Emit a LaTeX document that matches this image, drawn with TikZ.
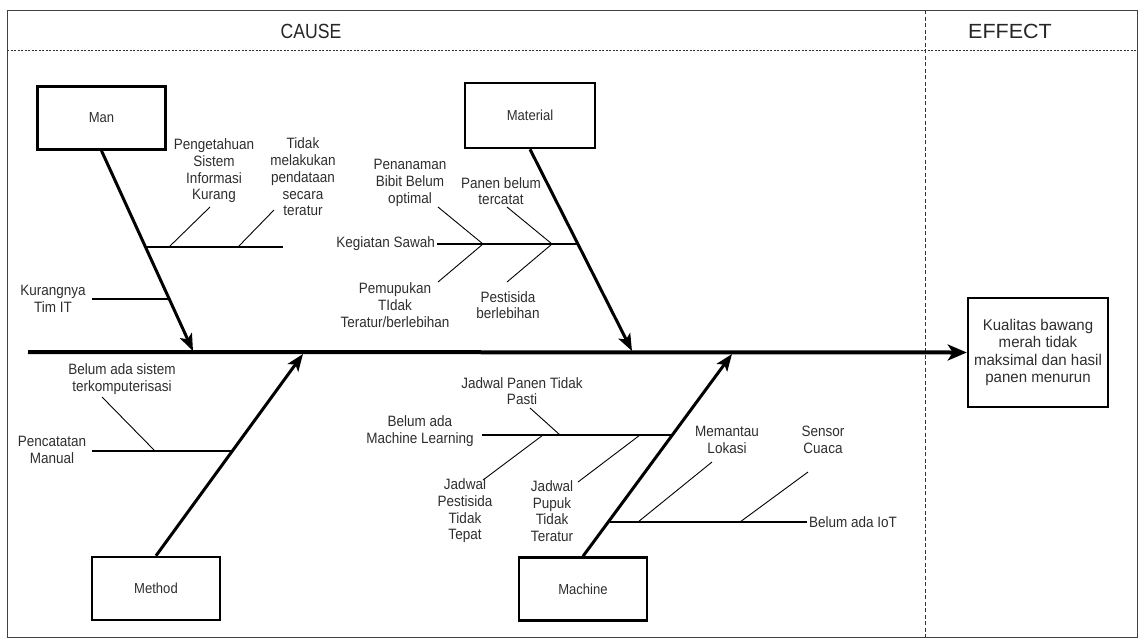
\documentclass[tikz,border=0pt]{standalone}
\usepackage{fontspec}
\setmainfont{Liberation Sans}
\newfontfamily\lblfont{Liberation Sans}[FakeStretch=0.9]
\newfontfamily\causefont{Liberation Sans}[FakeStretch=0.86]
\newfontfamily\efffont{Liberation Sans}[FakeStretch=1.05]
\newfontfamily\boxfont{Liberation Sans}[FakeStretch=0.97]
\usetikzlibrary{arrows.meta}
\begin{document}
\begin{tikzpicture}[x=1pt,y=-1pt,
  lbl/.style={font=\lblfont\fontsize{15}{16.7}\selectfont, align=center, inner sep=0pt, text=black!82},
  hdr/.style={font=\fontsize{20.5}{24}\selectfont, inner sep=0pt, text=black!85},
  catbox/.style={draw, line width=2.5pt, minimum width=128pt, minimum height=63pt, inner sep=0pt,
                 font=\lblfont\fontsize{14.5}{16}\selectfont, text=black!82},
  catarrow/.style={line width=3pt, -{Stealth[length=17pt,width=13pt,inset=4pt]}},
  spinearrow/.style={line width=4pt, -{Stealth[length=19pt,width=16pt,inset=5pt]}},
  branch/.style={line width=2pt},
  sub/.style={line width=0.9pt},
  frame/.style={line width=1pt, draw=black!75},
  sep/.style={line width=0.9pt, draw=black!80, dash pattern=on 2pt off 1.5pt},
  vsep/.style={line width=0.9pt, draw=black!80, dash pattern=on 4pt off 2.5pt}
]
\useasboundingbox (0,0) rectangle (1141,641);
\fill[white] (0,0) rectangle (1141,641);

% frame and header
\coordinate (fTL) at (7,10);
\coordinate (fBR) at (1137,637);
\draw[frame] (fTL) rectangle (fBR);
\coordinate (hL) at (7,50);
\coordinate (hR) at (1137,50);
\draw[sep] (hL) -- (hR);
\coordinate (vT) at (925,10);
\coordinate (vB) at (925,637);
\draw[vsep] (vT) -- (vB);
\node[hdr, font=\causefont\fontsize{20.5}{24}\selectfont] (cause) at (311,31) {CAUSE};
\node[hdr, font=\efffont\fontsize{20.5}{24}\selectfont] (effecthdr) at (1010,31) {EFFECT};

% effect box
\node[draw, line width=2.5pt, minimum width=140pt, minimum height=109pt, inner sep=0pt,
      align=center, font=\boxfont\fontsize{15.5}{17.5}\selectfont, text=black!82] (effect) at (1038,352.5)
  {Kualitas bawang\\merah tidak\\maksimal dan hasil\\panen menurun};

% spine
\coordinate (spineS) at (28,352);
\draw[spinearrow] (spineS) -- (effect.west);

% category boxes
\node[catbox] (man) at (101.5,118) {Man};
\node[catbox, minimum width=130pt, minimum height=65pt] (material) at (530,115.5) {Material};
\node[catbox] (method) at (156,588.5) {Method};
\node[catbox] (machine) at (583,589) {Machine};

% category arrows
\coordinate (manT) at (193,351);
\coordinate (matT) at (632,351);
\coordinate (metT) at (303,354);
\coordinate (macT) at (732,354);
\draw[catarrow] (man.south) -- (manT);
\draw[catarrow] (material.south) -- (matT);
\draw[catarrow] (method.north) -- (metT);
\draw[catarrow] (machine.north) -- (macT);

% ---- Man branches
\coordinate (m1a) at (146,247);
\coordinate (m1b) at (283,247);
\draw[branch] (m1a) -- (m1b);
\coordinate (m1c) at (169,247);
\coordinate (m1d) at (210,207);
\draw[sub] (m1c) -- (m1d);
\coordinate (m1e) at (238,247);
\coordinate (m1f) at (274,210);
\draw[sub] (m1e) -- (m1f);
\node[lbl] (pengetahuan) at (214,171) {Pengetahuan\\Sistem\\Informasi\\Kurang};
\node[lbl] (tidakmel) at (303,177) {Tidak\\melakukan\\pendataan\\secara\\teratur};

\coordinate (m2a) at (169,299);
\coordinate (m2b) at (92,299);
\draw[branch] (m2a) -- (m2b);
\node[lbl] (kurangnya) at (53,299) {Kurangnya\\Tim IT};

% ---- Material branches
\coordinate (k1) at (578,244);
\node[lbl, anchor=east] (kegiatan) at (435,244) {Kegiatan Sawah};
\coordinate (k0) at (437,244);
\draw[branch] (k1) -- (k0);
\coordinate (k2) at (483,244);
\coordinate (k3) at (438,207);
\coordinate (k4) at (438,282);
\draw[sub] (k3) -- (k2) -- (k4);
\coordinate (k5) at (552,244);
\coordinate (k6) at (507,207);
\coordinate (k7) at (507,282);
\draw[sub] (k6) -- (k5) -- (k7);
\node[lbl] (penanaman) at (410,183) {Penanaman\\Bibit Belum\\optimal};
\node[lbl] (panen) at (501,191) {Panen belum\\tercatat};
\node[lbl] (pemupukan) at (395,305) {Pemupukan\\TIdak\\Teratur/berlebihan};
\node[lbl] (pestisida) at (508,305) {Pestisida\\berlebihan};

% ---- Method branches
\coordinate (p1) at (233,451);
\coordinate (p0) at (92,451);
\draw[branch] (p1) -- (p0);
\coordinate (p2) at (155,451);
\coordinate (p3) at (102,397);
\draw[sub] (p2) -- (p3);
\node[lbl] (belumsis) at (122,379) {Belum ada sistem\\terkomputerisasi};
\node[lbl] (pencatatan) at (52,450) {Pencatatan\\Manual};

% ---- Machine branches
\coordinate (q1) at (672,435);
\coordinate (q0) at (482,435);
\draw[branch] (q1) -- (q0);
\node[lbl] (belumml) at (420,431) {Belum ada\\Machine Learning};
\coordinate (q2) at (560,435);
\coordinate (q3) at (530,408);
\draw[sub] (q2) -- (q3);
\node[lbl] (jadpanen) at (522,391) {Jadwal Panen Tidak\\Pasti};
\coordinate (q4) at (543,435);
\coordinate (q5) at (483,480);
\draw[sub] (q4) -- (q5);
\node[lbl] (jadpest) at (465,511) {Jadwal\\Pestisida\\Tidak\\Tepat};
\coordinate (q6) at (640,435);
\coordinate (q7) at (578,482);
\draw[sub] (q6) -- (q7);
\node[lbl] (jadpupuk) at (552,511) {Jadwal\\Pupuk\\Tidak\\Teratur};

\coordinate (r1) at (610,522);
\node[lbl, anchor=west] (iot) at (809,522) {Belum ada IoT};
\coordinate (r0) at (807,522);
\draw[branch] (r1) -- (r0);
\coordinate (r2) at (638,522);
\coordinate (r3) at (712,462);
\draw[sub] (r2) -- (r3);
\node[lbl] (memantau) at (727,440) {Memantau\\Lokasi};
\coordinate (r4) at (740,522);
\coordinate (r5) at (808,472);
\draw[sub] (r4) -- (r5);
\node[lbl] (sensor) at (823,440) {Sensor\\Cuaca};
\end{tikzpicture}
\end{document}
